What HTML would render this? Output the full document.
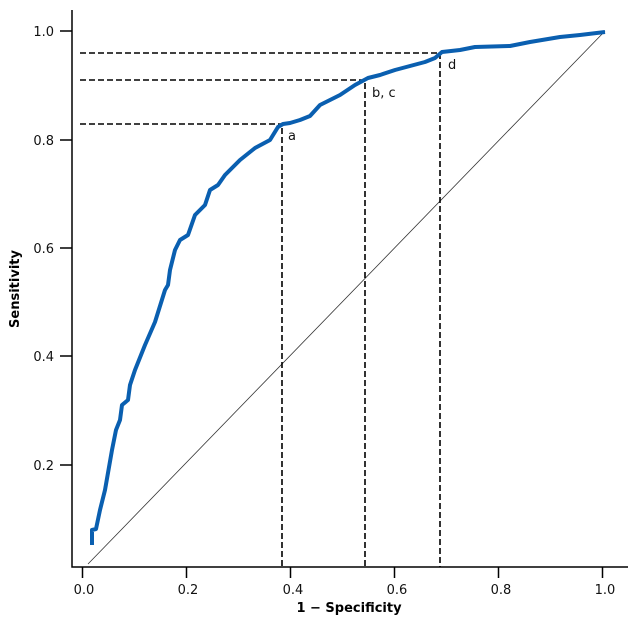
<!DOCTYPE html>
<html><head><style>body{margin:0;background:#fff}text{font-family:"DejaVu Sans","Liberation Sans",sans-serif}</style></head>
<body>
<svg width="633" height="619" viewBox="0 0 633 619" xmlns="http://www.w3.org/2000/svg">
<g stroke="#000" stroke-width="1.5" fill="none">
<path d="M72 10V567H628"/>
<path d="M60 31H72M60 140H72M60 248H72M60 356H72M60 465H72"/>
<path d="M82.5 567V578M186.5 567V578M290.5 567V578M394.5 567V578M498.5 567V578M602.5 567V578"/>
</g>
<g font-size="13" fill="#111" text-anchor="end">
<text x="54" y="36">1.0</text><text x="54" y="145">0.8</text><text x="54" y="253">0.6</text><text x="54" y="361">0.4</text><text x="54" y="470">0.2</text>
</g>
<g font-size="13" fill="#111" text-anchor="middle">
<text x="84" y="594">0.0</text><text x="188" y="594">0.2</text><text x="293" y="594">0.4</text><text x="397" y="594">0.6</text><text x="501" y="594">0.8</text><text x="605" y="594">1.0</text>
</g>
<text x="349" y="612" font-size="13" font-weight="bold" text-anchor="middle">1 − Specificity</text>
<text transform="translate(19,289) rotate(-90)" font-size="13" font-weight="bold" text-anchor="middle">Sensitivity</text>
<line x1="88" y1="564" x2="605" y2="31" stroke="#333" stroke-width="0.8"/>
<g stroke="#000" stroke-width="1.6" stroke-dasharray="6,3" fill="none">
<path d="M80 53H440V567M80 80H365V567M80 124H282M282 128V567"/>
</g>
<path d="M92 545L92 530L96 529L100 510L105 490L112 450L116 430L120 420L122 405L128 400L130 385L135 370L145 345L155 322L165 290L168 285L170 270L175 250L180 240L188 235L195 215L205 205L210 190L218 185L225 175L240 160L255 148L270 140L278 127L283 124L290 123L300 120L310 116L320 105L330 100L340 95L355 85L368 78L380 75L395 70L410 66L425 62L435 58L442 52L460 50L475 47L510 46L530 42L560 37L580 35L605 32" stroke="#0a5fb0" stroke-width="4" fill="none" stroke-linejoin="round"/>
<g font-size="13" fill="#111">
<text x="288" y="140">a</text><text x="372" y="97">b, c</text><text x="448" y="69">d</text>
</g>
</svg>
</body></html>
